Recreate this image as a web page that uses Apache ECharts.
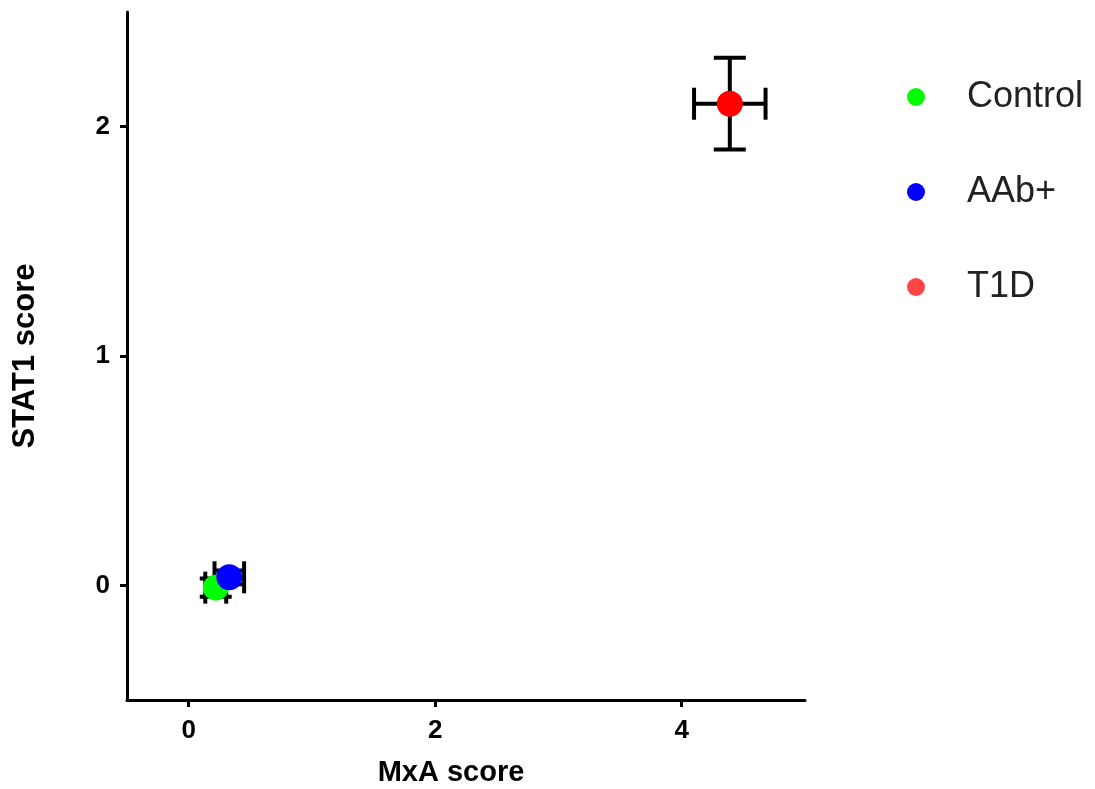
<!DOCTYPE html>
<html>
<head>
<meta charset="utf-8">
<script src="https://cdn.jsdelivr.net/npm/echarts@6/dist/echarts.min.js"></script>
<style>
html,body{margin:0;padding:0;background:#fff;}
#chart{width:1095px;height:789px;}
</style>
</head>
<body>
<div id="chart"></div>
<script>
// Data
var groups = ['Control', 'AAb+', 'T1D'];
var colors = ['#00ff00', '#0000ff', '#ff0000'];
var legendColors = ['#00ff00', '#0000ff', '#ff4444'];
var mxaMean = [0.22, 0.33, 4.39];
var mxaErr = [0.085, 0.12, 0.29];
var stat1Mean = [-0.01, 0.035, 2.10];
var stat1Err = [0.04, 0.03, 0.20];
var xTicks = [0, 2, 4];
var yTicks = [0, 1, 2];

var chart = echarts.init(document.getElementById('chart'));

var errData = groups.map(function (g, i) {
  return [mxaMean[i], stat1Mean[i], mxaErr[i], stat1Err[i]];
});

function renderErr(params, api) {
  var x = api.value(0), y = api.value(1), ex = api.value(2), ey = api.value(3);
  var c = api.coord([x, y]);
  var l = api.coord([x - ex, y]);
  var r = api.coord([x + ex, y]);
  var t = api.coord([x, y + ey]);
  var b = api.coord([x, y - ey]);
  var cap = 16;
  var style = { stroke: '#000', lineWidth: 4, fill: null };
  return {
    type: 'group',
    children: [
      { type: 'line', shape: { x1: l[0], y1: c[1], x2: r[0], y2: c[1] }, style: style },
      { type: 'line', shape: { x1: l[0], y1: c[1] - cap, x2: l[0], y2: c[1] + cap }, style: style },
      { type: 'line', shape: { x1: r[0], y1: c[1] - cap, x2: r[0], y2: c[1] + cap }, style: style },
      { type: 'line', shape: { x1: c[0], y1: t[1], x2: c[0], y2: b[1] }, style: style },
      { type: 'line', shape: { x1: c[0] - cap, y1: t[1], x2: c[0] + cap, y2: t[1] }, style: style },
      { type: 'line', shape: { x1: c[0] - cap, y1: b[1], x2: c[0] + cap, y2: b[1] }, style: style }
    ]
  };
}

var series = [{
  type: 'custom',
  name: 'err',
  renderItem: renderErr,
  data: errData,
  z: 1,
  silent: true
}];
groups.forEach(function (g, i) {
  series.push({
    type: 'scatter',
    name: g,
    data: [[mxaMean[i], stat1Mean[i]]],
    symbol: 'circle',
    symbolSize: 26,
    itemStyle: { color: colors[i], opacity: 1 },
    z: 2 + i
  });
});

var axisCommon = {
  axisLine: { show: true, onZero: false, lineStyle: { color: '#000', width: 3 } },
  axisTick: { show: true, length: 7, lineStyle: { color: '#000', width: 3 } },
  splitLine: { show: false },
  axisLabel: { color: '#000', fontFamily: 'Liberation Sans, Arial', fontWeight: 'bold', fontSize: 26 },
  nameLocation: 'middle'
};

chart.setOption({
  animation: false,
  backgroundColor: '#fff',
  grid: { left: 127, right: 290, top: 12, bottom: 89, containLabel: false, outerBoundsMode: 'none' },
  legend: {
    orient: 'vertical',
    left: 902,
    top: 72,
    itemGap: 55,
    itemWidth: 18,
    itemHeight: 18,
    icon: 'circle',
    data: groups.map(function (g, i) {
      return { name: g, itemStyle: { color: legendColors[i] } };
    }),
    textStyle: { color: '#222', fontFamily: 'Liberation Sans, Arial', fontSize: 36, lineHeight: 40, padding: [0, 0, 0, 37] }
  },
  xAxis: Object.assign({}, axisCommon, {
    type: 'value',
    min: -0.5,
    max: 5,
    name: 'MxA score',
    nameGap: 58,
    nameTextStyle: { color: '#000', fontFamily: 'Liberation Sans, Arial', fontWeight: 'bold', fontSize: 29, padding: [0, 30, 0, 0] },
    axisTick: Object.assign({}, axisCommon.axisTick, { customValues: xTicks }),
    axisLabel: Object.assign({}, axisCommon.axisLabel, { customValues: xTicks, margin: 18 })
  }),
  yAxis: Object.assign({}, axisCommon, {
    type: 'value',
    min: -0.5,
    max: 2.5,
    name: 'STAT1 score',
    nameGap: 86,
    nameTextStyle: { color: '#000', fontFamily: 'Liberation Sans, Arial', fontWeight: 'bold', fontSize: 31 },
    axisTick: Object.assign({}, axisCommon.axisTick, { customValues: yTicks }),
    axisLabel: Object.assign({}, axisCommon.axisLabel, { customValues: yTicks, margin: 17 })
  }),
  series: series
});
</script>
</body>
</html>
